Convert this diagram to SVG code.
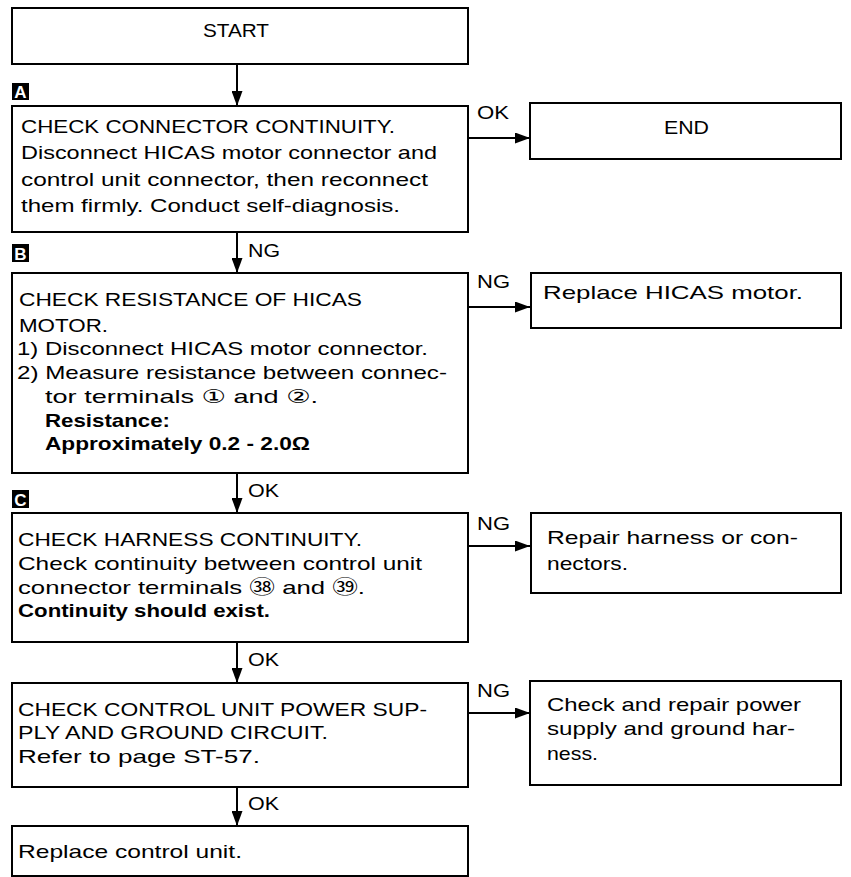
<svg xmlns="http://www.w3.org/2000/svg" width="851" height="877" viewBox="0 0 851 877">
<style>
.box{fill:#fff;stroke:#000;stroke-width:2}
.t{font-family:"Liberation Sans","DejaVu Sans","Noto Sans CJK JP",sans-serif;font-size:19px;fill:#000}
.b{font-weight:bold}
.lbl{font-family:"Liberation Sans","DejaVu Sans",sans-serif;font-size:18px;fill:#000}
.tag{fill:#000}
.tagt{font-family:"Liberation Sans",sans-serif;font-size:17px;font-weight:bold;fill:#fff}
.c{stroke:#000;stroke-width:2;fill:none;marker-end:url(#arr)}
</style>
<defs>
<marker id="arr" markerUnits="userSpaceOnUse" markerWidth="15" markerHeight="11" refX="15" refY="5.5" orient="auto">
<path d="M0,0 L15,5.5 L0,11 z" fill="#000"/>
</marker>
</defs>
<rect width="851" height="877" fill="#fff"/>

<g id="connectors">
<line class="c" x1="237" y1="64" x2="237" y2="106"/>
<line class="c" x1="237" y1="232" x2="237" y2="273"/>
<line class="c" x1="237" y1="473" x2="237" y2="513"/>
<line class="c" x1="237" y1="642" x2="237" y2="683"/>
<line class="c" x1="237" y1="787" x2="237" y2="826"/>
<line class="c" x1="468" y1="138" x2="530" y2="138"/>
<line class="c" x1="468" y1="307" x2="530" y2="307"/>
<line class="c" x1="468" y1="546" x2="530" y2="546"/>
<line class="c" x1="468" y1="713" x2="530" y2="713"/>
<text class="lbl" x="477" y="119" textLength="32" lengthAdjust="spacingAndGlyphs">OK</text>
<text class="lbl" x="248" y="257" textLength="32" lengthAdjust="spacingAndGlyphs">NG</text>
<text class="lbl" x="477" y="288" textLength="33" lengthAdjust="spacingAndGlyphs">NG</text>
<text class="lbl" x="248" y="497" textLength="31" lengthAdjust="spacingAndGlyphs">OK</text>
<text class="lbl" x="477" y="530" textLength="33" lengthAdjust="spacingAndGlyphs">NG</text>
<text class="lbl" x="248" y="666" textLength="31" lengthAdjust="spacingAndGlyphs">OK</text>
<text class="lbl" x="477" y="697" textLength="33" lengthAdjust="spacingAndGlyphs">NG</text>
<text class="lbl" x="248" y="810" textLength="31" lengthAdjust="spacingAndGlyphs">OK</text>
</g>

<g id="start">
<rect class="box" x="12" y="8" width="456" height="56"/>
<text class="t" x="203" y="37" textLength="66" lengthAdjust="spacingAndGlyphs">START</text>
</g>

<g id="tagA">
<rect class="tag" x="12" y="83" width="17" height="17"/>
<text class="tagt" x="20.5" y="98" text-anchor="middle">A</text>
</g>

<g id="checkA">
<rect class="box" x="12" y="106" width="456" height="126"/>
<text class="t" x="21" y="133" textLength="374" lengthAdjust="spacingAndGlyphs">CHECK CONNECTOR CONTINUITY.</text>
<text class="t" x="21" y="159" textLength="416" lengthAdjust="spacingAndGlyphs">Disconnect HICAS motor connector and</text>
<text class="t" x="21" y="186" textLength="407" lengthAdjust="spacingAndGlyphs">control unit connector, then reconnect</text>
<text class="t" x="21" y="212" textLength="379" lengthAdjust="spacingAndGlyphs">them firmly. Conduct self-diagnosis.</text>
</g>

<g id="end">
<rect class="box" x="530" y="103" width="311" height="56"/>
<text class="t" x="664" y="134" textLength="45" lengthAdjust="spacingAndGlyphs">END</text>
</g>

<g id="tagB">
<rect class="tag" x="12" y="244" width="17" height="18"/>
<text class="tagt" x="20.5" y="259.5" text-anchor="middle">B</text>
</g>

<g id="checkB">
<rect class="box" x="12" y="273" width="456" height="200"/>
<text class="t" x="19" y="306" textLength="343" lengthAdjust="spacingAndGlyphs">CHECK RESISTANCE OF HICAS</text>
<text class="t" x="19" y="332" textLength="89" lengthAdjust="spacingAndGlyphs">MOTOR.</text>
<text class="t" x="17" y="355" textLength="411" lengthAdjust="spacingAndGlyphs">1) Disconnect HICAS motor connector.</text>
<text class="t" x="17" y="379" textLength="430" lengthAdjust="spacingAndGlyphs">2) Measure resistance between connec-</text>
<text class="t" x="45" y="403" textLength="273" lengthAdjust="spacingAndGlyphs">tor terminals ① and ②.</text>
<text class="t b" x="45" y="427" textLength="125" lengthAdjust="spacingAndGlyphs">Resistance:</text>
<text class="t b" x="45" y="450" textLength="265" lengthAdjust="spacingAndGlyphs">Approximately 0.2 - 2.0Ω</text>
</g>

<g id="replaceMotor">
<rect class="box" x="531" y="273" width="310" height="55"/>
<text class="t" x="543" y="299" textLength="260" lengthAdjust="spacingAndGlyphs">Replace HICAS motor.</text>
</g>

<g id="tagC">
<rect class="tag" x="12" y="490" width="17" height="18"/>
<text class="tagt" x="20.5" y="505.5" text-anchor="middle">C</text>
</g>

<g id="checkC">
<rect class="box" x="12" y="513" width="456" height="129"/>
<text class="t" x="18" y="546" textLength="344" lengthAdjust="spacingAndGlyphs">CHECK HARNESS CONTINUITY.</text>
<text class="t" x="18" y="570" textLength="404" lengthAdjust="spacingAndGlyphs">Check continuity between control unit</text>
<text class="t" x="18" y="594" textLength="347" lengthAdjust="spacingAndGlyphs">connector terminals ㊳ and ㊴.</text>
<text class="t b" x="18" y="617" textLength="252" lengthAdjust="spacingAndGlyphs">Continuity should exist.</text>
</g>

<g id="repairHarness">
<rect class="box" x="531" y="513" width="310" height="80"/>
<text class="t" x="547" y="544" textLength="251" lengthAdjust="spacingAndGlyphs">Repair harness or con-</text>
<text class="t" x="547" y="570" textLength="81" lengthAdjust="spacingAndGlyphs">nectors.</text>
</g>

<g id="checkD">
<rect class="box" x="12" y="683" width="456" height="104"/>
<text class="t" x="18" y="716" textLength="409" lengthAdjust="spacingAndGlyphs">CHECK CONTROL UNIT POWER SUP-</text>
<text class="t" x="18" y="739" textLength="310" lengthAdjust="spacingAndGlyphs">PLY AND GROUND CIRCUIT.</text>
<text class="t" x="18" y="763" textLength="242" lengthAdjust="spacingAndGlyphs">Refer to page ST-57.</text>
</g>

<g id="repairPower">
<rect class="box" x="530" y="681" width="311" height="104"/>
<text class="t" x="547" y="711" textLength="254" lengthAdjust="spacingAndGlyphs">Check and repair power</text>
<text class="t" x="547" y="735" textLength="248" lengthAdjust="spacingAndGlyphs">supply and ground har-</text>
<text class="t" x="547" y="760" textLength="51" lengthAdjust="spacingAndGlyphs">ness.</text>
</g>

<g id="replaceUnit">
<rect class="box" x="12" y="826" width="456" height="50"/>
<text class="t" x="18" y="858" textLength="224" lengthAdjust="spacingAndGlyphs">Replace control unit.</text>
</g>
</svg>
